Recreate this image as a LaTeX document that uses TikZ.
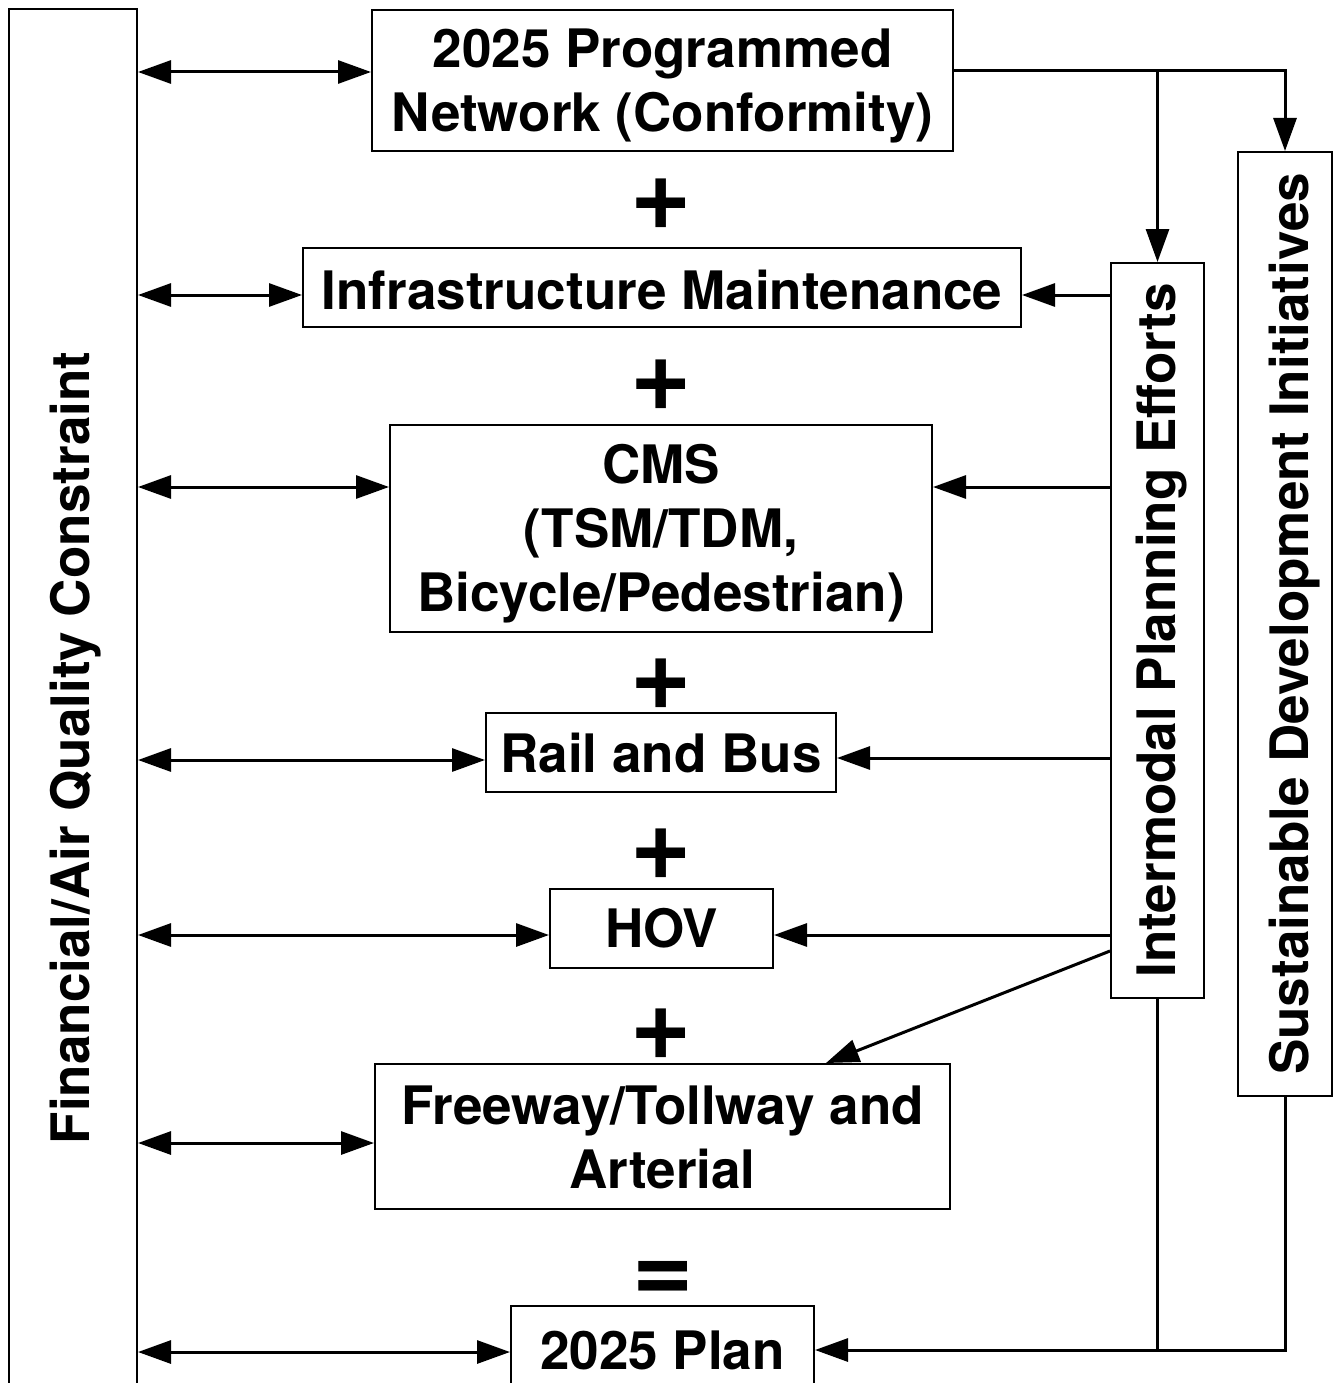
\documentclass[tikz,border=0pt]{standalone}
\usepackage{fontspec}
\setmainfont{TeX Gyre Heros}
\usetikzlibrary{arrows.meta}
\newcommand{\shiftdown}[2]{\raisebox{-#1}[\height][\depth]{#2}}
\newcommand{\stacked}[1]{\begin{tabular}{@{}c@{}}#1\end{tabular}}
\begin{document}
\begin{tikzpicture}[x=1pt,y=-1pt,
  txt/.style={font=\bfseries\fontsize{53}{64}\selectfont},
  box/.style={draw, line width=2pt, inner sep=0pt, txt, align=center},
  sym/.style={inner sep=0pt, font=\bfseries\fontsize{105}{105}\selectfont},
  conn/.style={line width=3pt},
  arr/.style={conn, -{Triangle[length=33pt,width=23pt]}},
  dbl/.style={conn, {Triangle[length=33pt,width=23pt]}-{Triangle[length=33pt,width=23pt]}},
]
\useasboundingbox (0,0) rectangle (1333,1383);

% left bar
\node[draw, line width=2pt, inner sep=0pt, minimum width=128pt, minimum height=1390pt] (fin) at (73,704) {};
\node[txt, inner sep=0pt] (fintext) at (76,748) {\rotatebox{90}{Financial/Air Quality Constraint}};

% central boxes
\node[box, minimum width=581pt, minimum height=141pt] (b1) at (662.5,80.5) {\shiftdown{6pt}{\stacked{2025 Programmed\\Network (Conformity)}}};
\node[box, minimum width=718pt, minimum height=79pt] (b2) at (662,287.5) {\shiftdown{2pt}{Infrastructure Maintenance}};
\node[box, minimum width=542pt, minimum height=207pt] (b3) at (661,528.5) {\shiftdown{6pt}{\stacked{CMS\\(TSM/TDM,\\Bicycle/Pedestrian)}}};
\node[box, minimum width=350pt, minimum height=79pt] (b4) at (661,752.5) {Rail and Bus};
\node[box, minimum width=223pt, minimum height=79pt] (b5) at (661.5,928.5) {HOV};
\node[box, minimum width=575pt, minimum height=145pt] (b6) at (662.5,1136.5) {\shiftdown{7pt}{\stacked{Freeway/Tollway and\\Arterial}}};
\node[box, minimum width=303pt, minimum height=88pt] (b7) at (662.5,1350) {2025 Plan};

% right boxes
\node[box, minimum width=93pt, minimum height=735pt] (im) at (1157.5,630.5) {\rotatebox{90}{\shiftdown{4pt}{Intermodal Planning Efforts}}};
\node[box, minimum width=94pt, minimum height=944pt] (sd) at (1285,624) {\rotatebox{90}{\shiftdown{10pt}{Sustainable Development Initiatives}}};

% operators
\node[sym] (p1) at (661,204) {+};
\node[sym] (p2) at (661,385) {+};
\node[sym] (p3) at (661,684) {+};
\node[sym] (p4) at (661,854) {+};
\node[sym] (p5) at (661,1034) {+};
\node[sym] (eq) at (663,1282) {=};

% left double arrows
\draw[dbl] (fin.east |- 0,72) -- (b1.west |- 0,72);
\draw[dbl] (fin.east |- 0,295) -- (b2.west |- 0,295);
\draw[dbl] (fin.east |- 0,487) -- (b3.west |- 0,487);
\draw[dbl] (fin.east |- 0,760) -- (b4.west |- 0,760);
\draw[dbl] (fin.east |- 0,935) -- (b5.west |- 0,935);
\draw[dbl] (fin.east |- 0,1143) -- (b6.west |- 0,1143);
\draw[dbl] (fin.east |- 0,1352) -- (b7.west |- 0,1352);

% top connectors
\coordinate (tr) at (1285,71);
\coordinate (tb) at (1157.5,71);
\draw[arr] (b1.east |- 0,71) -- (tr) -- (sd.north);
\draw[arr] (tb) -- (im.north);

% intermodal to boxes
\draw[arr] (im.west |- 0,295) -- (b2.east |- 0,295);
\draw[arr] (im.west |- 0,487) -- (b3.east |- 0,487);
\draw[arr] (im.west |- 0,758) -- (b4.east |- 0,758);
\draw[arr] (im.west |- 0,935) -- (b5.east |- 0,935);
\draw[arr] (im.west |- 0,951) -- (b6.north -| 826,0);

% bottom connectors
\draw[conn] (im.south) -- (im.south |- b7.east);
\draw[arr] (sd.south) |- (b7.east);
\end{tikzpicture}
\end{document}
